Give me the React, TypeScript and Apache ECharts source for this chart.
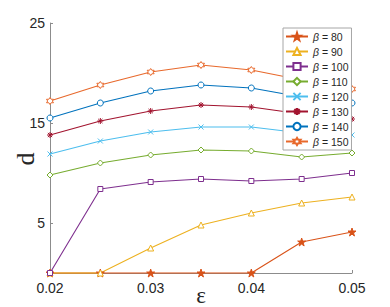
import React, { useEffect, useRef } from "react";
import * as echarts from "echarts";

const epsilon = [0.02, 0.025, 0.03, 0.035, 0.04, 0.045, 0.05];
const betaNames = ["β = 80", "β = 90", "β = 100", "β = 110", "β = 120", "β = 130", "β = 140", "β = 150"];
const d80 = [0, 0, 0, 0, 0, 3.1, 4.1];
const d90 = [0, 0, 2.5, 4.8, 6.0, 7.0, 7.6];
const d100 = [0, 8.4, 9.1, 9.4, 9.2, 9.4, 10.0];
const d110 = [9.8, 11.0, 11.8, 12.3, 12.2, 11.6, 12.0];
const d120 = [11.9, 13.2, 14.1, 14.6, 14.6, 14.0, 13.8];
const d130 = [13.8, 15.2, 16.2, 16.8, 16.6, 15.9, 15.4];
const d140 = [15.5, 17.0, 18.2, 18.8, 18.5, 17.6, 17.0];
const d150 = [17.2, 18.8, 20.1, 20.8, 20.3, 19.3, 18.4];
const yTicks = [5, 15, 25];

const seriesValues = [d80, d90, d100, d110, d120, d130, d140, d150];
const colors = ["#D95319", "#EDB120", "#7E2F8E", "#77AC30", "#4DBEEE", "#A2142F", "#0072BD", "#E8692C"];

const STAR = "path://M50,0 L61.8,36.2 L100,36.2 L69.1,58.8 L80.9,95.1 L50,72.6 L19.1,95.1 L30.9,58.8 L0,36.2 L38.2,36.2 Z";
const HEX = "path://M50,0 L64.4,25 L93.3,25 L78.9,50 L93.3,75 L64.4,75 L50,100 L35.6,75 L6.7,75 L21.1,50 L6.7,25 L35.6,25 Z";
const XMARK = "path://M0,0 L100,100 M0,100 L100,0";
const AST = "path://M50,0 L50,100 M0,50 L100,50 M14.6,14.6 L85.4,85.4 M14.6,85.4 L85.4,14.6";

const markers: { symbol: string; size: number; filled: boolean }[] = [
  { symbol: STAR, size: 8, filled: true },
  { symbol: "triangle", size: 6, filled: false },
  { symbol: "rect", size: 5, filled: false },
  { symbol: "diamond", size: 6, filled: false },
  { symbol: XMARK, size: 5, filled: true },
  { symbol: AST, size: 6, filled: true },
  { symbol: "circle", size: 6, filled: false },
  { symbol: HEX, size: 7, filled: false },
];

export default function App() {
  const ref = useRef<HTMLDivElement>(null);
  useEffect(() => {
    document.body.style.margin = "0";
    if (!ref.current) return;
    const chart = echarts.init(ref.current, null, { renderer: "svg" });
    const series = seriesValues.map((vals, i) => {
      const c = colors[i];
      const m = markers[i];
      return {
        name: betaNames[i],
        type: "line",
        data: vals.map((v, j) => [epsilon[j], v]),
        symbol: m.symbol,
        symbolSize: m.size,
        showAllSymbol: true,
        clip: false,
        lineStyle: { color: c, width: 1.1 },
        itemStyle: {
          color: m.filled ? c : "#ffffff",
          borderColor: c,
          borderWidth: 1,
        },
        emphasis: { disabled: true },
      };
    });
    chart.setOption({
      animation: false,
      backgroundColor: "#ffffff",
      grid: { left: 50, right: 38, top: 23, bottom: 34, containLabel: false, outerBoundsMode: "none" },
      xAxis: {
        type: "value",
        min: 0.02,
        max: 0.05,
        interval: 0.01,
        name: "ε",
        nameLocation: "middle",
        nameGap: 14,
        nameMoveOverlap: false,
        nameTextStyle: { fontFamily: "Liberation Serif", fontSize: 23, lineHeight: 16, color: "#262626" },
        axisLine: { lineStyle: { color: "#8c8c8c", width: 1 } },
        axisTick: { inside: true, length: 3, lineStyle: { color: "#8c8c8c" } },
        axisLabel: {
          margin: 8,
          fontFamily: "Liberation Sans",
          fontSize: 14,
          color: "#262626",
          formatter: (v: number) => v.toFixed(2),
        },
        splitLine: { show: false },
      },
      yAxis: {
        type: "value",
        min: 0,
        max: 25,
        name: "d",
        nameLocation: "middle",
        nameGap: 12,
        nameMoveOverlap: false,
        nameRotate: 90,
        nameTextStyle: { fontFamily: "Liberation Serif", fontSize: 26, color: "#262626", padding: [0, 22, 0, 0] },
        axisLine: { show: true, lineStyle: { color: "#8c8c8c", width: 1 } },
        axisTick: { show: true, inside: true, length: 3, customValues: yTicks, lineStyle: { color: "#8c8c8c" } },
        axisLabel: {
          margin: 5,
          fontFamily: "Liberation Sans",
          fontSize: 14,
          color: "#262626",
          customValues: yTicks,
        },
        splitLine: { show: false },
      },
      legend: {
        orient: "vertical",
        left: 283,
        top: 28,
        itemWidth: 22,
        itemHeight: 9,
        itemGap: 4,
        padding: [3, 3, 3, 2],
        backgroundColor: "#ffffff",
        borderColor: "#a6a6a6",
        borderWidth: 1,
        borderRadius: 0,
        selectedMode: false,
        data: betaNames,
        formatter: (name: string) => name.replace("β", "{i|β}"),
        textStyle: {
          fontFamily: "Liberation Sans",
          fontSize: 10.5,
          color: "#262626",
          rich: {
            i: { fontFamily: "Liberation Sans", fontStyle: "italic", fontSize: 10.5, color: "#262626" },
          },
        },
      },
      series,
    });
    return () => chart.dispose();
  }, []);
  return <div ref={ref} style={{ width: 390, height: 307, position: "absolute", left: 0, top: 0 }} />;
}
